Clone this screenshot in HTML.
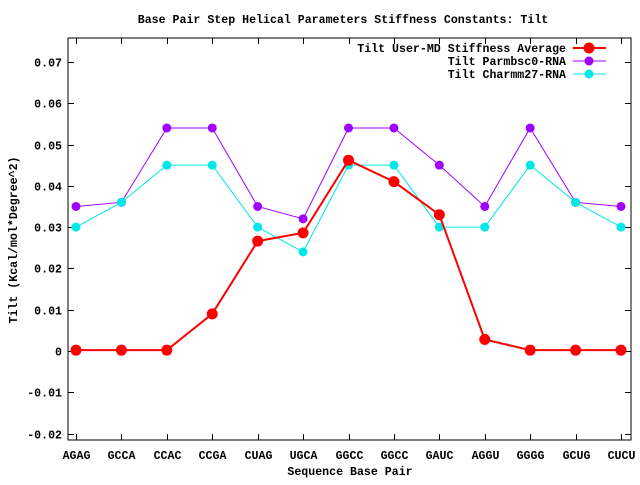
<!DOCTYPE html>
<html><head><meta charset="utf-8"><style>
body{margin:0;background:#fff}
svg text{font-family:"Liberation Mono","DejaVu Sans Mono",monospace;font-size:11.6px;font-weight:bold;fill:#000}
</style></head><body>
<svg id="c" width="640" height="480" xmlns="http://www.w3.org/2000/svg">
<rect width="640" height="480" fill="#fff"/>
<text x="343" y="23" text-anchor="middle">Base Pair Step Helical Parameters Stiffness Constants: Tilt</text>
<text x="350" y="475" text-anchor="middle">Sequence Base Pair</text>
<text transform="translate(17,240) rotate(-90)" text-anchor="middle">Tilt (Kcal/mol*Degree^2)</text>
<g id="g"></g>
</svg>
<script>
const categories=["AGAG","GCCA","CCAC","CCGA","CUAG","UGCA","GGCC","GGCC","GAUC","AGGU","GGGG","GCUG","CUCU"];
const userMD=[0.0002,0.0002,0.0002,0.009,0.0266,0.0286,0.0462,0.041,0.033,0.0028,0.0002,0.0002,0.0002];
const parmbsc0=[0.035,0.036,0.054,0.054,0.035,0.032,0.054,0.054,0.045,0.035,0.054,0.036,0.035];
const charmm27=[0.030,0.036,0.045,0.045,0.030,0.024,0.045,0.045,0.030,0.030,0.045,0.036,0.030];
const yTicks=[-0.02,-0.01,0,0.01,0.02,0.03,0.04,0.05,0.06,0.07];
const yLabels=["-0.02","-0.01","0","0.01","0.02","0.03","0.04","0.05","0.06","0.07"];
const L=68,R=631,T=38,B=440;
const x=i=>76+i*(621-76)/(categories.length-1);
const y=v=>351-v*4130;
const g=document.getElementById('g');
const NS="http://www.w3.org/2000/svg";
function mk(t,a){const e=document.createElementNS(NS,t);for(const k in a)e.setAttribute(k,a[k]);g.appendChild(e);return e;}
const frame=mk('rect',{x:L,y:T,width:R-L,height:B-T,fill:'none',stroke:'#000','stroke-width':1});


yTicks.forEach((v,i)=>{
 const yy=Math.round(y(v))+0.5;
 mk('line',{x1:L,x2:L+6,y1:yy,y2:yy,stroke:'#000'});
 mk('line',{x1:R-6,x2:R,y1:yy,y2:yy,stroke:'#000'});
 const t=mk('text',{x:L-6,y:yy+4,'text-anchor':'end'});t.textContent=yLabels[i];
 
 
});
categories.forEach((c,i)=>{
 const xx=Math.round(x(i))+0.5;
 mk('line',{x1:xx,x2:xx,y1:B,y2:B-6,stroke:'#000'});
 mk('line',{x1:xx,x2:xx,y1:T,y2:T+6,stroke:'#000'});
 const t=mk('text',{x:xx,y:B+19,'text-anchor':'middle'});t.textContent=c;
 
 
});
function series(vals,color,w,r,name,label,ly){
 const p=mk('polyline',{points:vals.map((v,i)=>x(i)+','+y(v)).join(' '),fill:'none',stroke:color,'stroke-width':w});
 
 
 vals.forEach((v,i)=>{const c=mk('circle',{cx:x(i),cy:y(v),r:r,fill:color});
  
  });
 const t=mk('text',{x:566,y:ly+4,'text-anchor':'end'});t.textContent=label;
 
 
 mk('line',{x1:573,x2:606,y1:ly,y2:ly,stroke:color,'stroke-width':w});
 mk('circle',{cx:589,cy:ly,r:r,fill:color});
}
series(parmbsc0,'#a000ff',1,4.5,'parmbsc0','Tilt Parmbsc0-RNA',61);
series(charmm27,'#00e8e8',1,4.5,'charmm27','Tilt Charmm27-RNA',74);
series(userMD,'#ff0000',2,5.5,'user-md','Tilt User-MD Stiffness Average',48);
</script>
</body></html>
